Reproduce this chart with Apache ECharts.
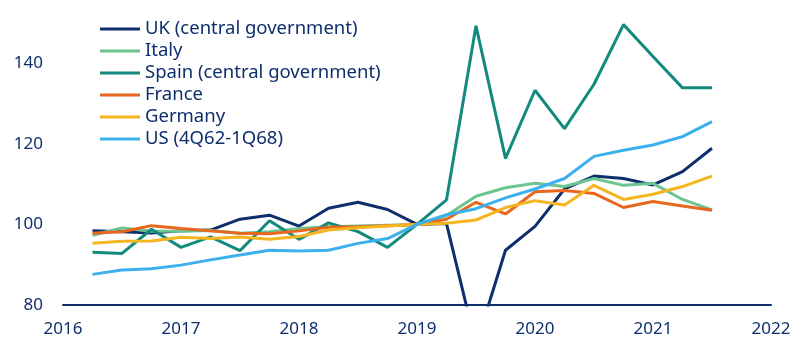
<!DOCTYPE html>
<html>
<head>
<meta charset="utf-8">
<script src="https://cdn.jsdelivr.net/npm/echarts@6/dist/echarts.min.js"></script>
<style>
html,body{margin:0;padding:0;background:#fff;}
#chart{width:795px;height:344px;}
</style>
</head>
<body>
<div id="chart"></div>
<script>
var quarters = ['2016Q2','2016Q3','2016Q4','2017Q1','2017Q2','2017Q3','2017Q4','2018Q1','2018Q2','2018Q3','2018Q4','2019Q1','2019Q2','2019Q3','2019Q4','2020Q1','2020Q2','2020Q3','2020Q4','2021Q1','2021Q2','2021Q3'];
var seriesNames = ['UK (central government)','Italy','Spain (central government)','France','Germany','US (4Q62-1Q68)'];
var uk      = [98.4, 98.2, 97.9, 98.4, 98.6, 101.3, 102.3, 99.6, 104.0, 105.5, 103.7, 100, 100.2, 70, 93.6, 99.5, 108.8, 112, 111.4, 109.8, 113.1, 118.9];
var italy   = [97.3, 99.1, 98.3, 98.3, 98.5, 97.8, 98.2, 99.0, 99.4, 99.6, 99.8, 100, 102.2, 107, 109.1, 110.2, 109.4, 111.4, 109.7, 110.2, 106.2, 103.6];
var spain   = [93.1, 92.8, 98.8, 94.3, 96.9, 93.5, 100.9, 96.3, 100.4, 98.2, 94.3, 100, 106.1, 149.3, 116.4, 133.3, 123.8, 134.8, 149.6, 141.7, 133.9, 133.9];
var france  = [97.8, 98.2, 99.7, 99.0, 98.4, 97.8, 97.7, 98.4, 99.3, 99.4, 99.7, 100, 101.3, 105.5, 102.6, 108.1, 108.4, 107.7, 104.2, 105.7, 104.6, 103.5];
var germany = [95.3, 95.8, 95.9, 96.8, 96.5, 96.9, 96.3, 97.0, 98.6, 99.2, 99.6, 100, 100.3, 101.1, 104.2, 105.9, 104.8, 109.7, 106.2, 107.5, 109.4, 112];
var us      = [87.6, 88.7, 89.0, 89.9, 91.2, 92.4, 93.6, 93.4, 93.6, 95.3, 96.5, 100, 102.4, 103.9, 106.6, 108.8, 111.4, 116.9, 118.4, 119.7, 121.8, 125.5];
var colors = ['#0e2f6c','#6cc48f','#128a7e','#e8671e','#f5b520','#3cb0ec'];
var yTicks = [80, 100, 120, 140];

function qToX(q){ var y = parseInt(q.slice(0,4),10); var n = parseInt(q.slice(5),10); return y + (n-1)/4; }
function pairs(arr){ return arr.map(function(v,i){ return [qToX(quarters[i]), v]; }); }

var allData = [uk, italy, spain, france, germany, us];
var navy = '#0e2f6c';
var font = 'Noto Sans';

var chart = echarts.init(document.getElementById('chart'), null, {renderer:'canvas'});
chart.setOption({
  animation: false,
  backgroundColor: '#fff',
  color: colors,
  grid: {left: 63, right: 24, top: 23, bottom: 39, containLabel: false},
  legend: {
    orient: 'vertical', left: 100, top: 18, padding: 0,
    itemWidth: 40, itemHeight: 3, itemGap: 0, icon: 'rect',
    textStyle: {fontFamily: font, fontSize: 18.5, color: navy, lineHeight: 22, height: 22},
    data: seriesNames
  },
  xAxis: {
    type: 'value', min: 2016, max: 2022, interval: 1,
    axisLine: {show: true, lineStyle: {color: navy, width: 2}},
    axisTick: {show: false},
    splitLine: {show: false},
    axisLabel: {fontFamily: font, fontSize: 17, color: navy, margin: 16, formatter: function(v){ return String(v); }}
  },
  yAxis: {
    type: 'value', min: 80, max: 150, interval: 20,
    axisLine: {show: false}, axisTick: {show: false}, splitLine: {show: false},
    axisLabel: {fontFamily: font, fontSize: 17, color: navy, margin: 20, showMaxLabel: false,
      formatter: function(v){ return yTicks.indexOf(v) >= 0 ? String(v) : ''; }}
  },
  series: seriesNames.map(function(name, i){
    return {
      name: name, type: 'line', data: pairs(allData[i]),
      showSymbol: false, symbol: 'none', clip: true,
      lineStyle: {width: 3, color: colors[i]}, itemStyle: {color: colors[i]}
    };
  })
});
</script>
</body>
</html>
